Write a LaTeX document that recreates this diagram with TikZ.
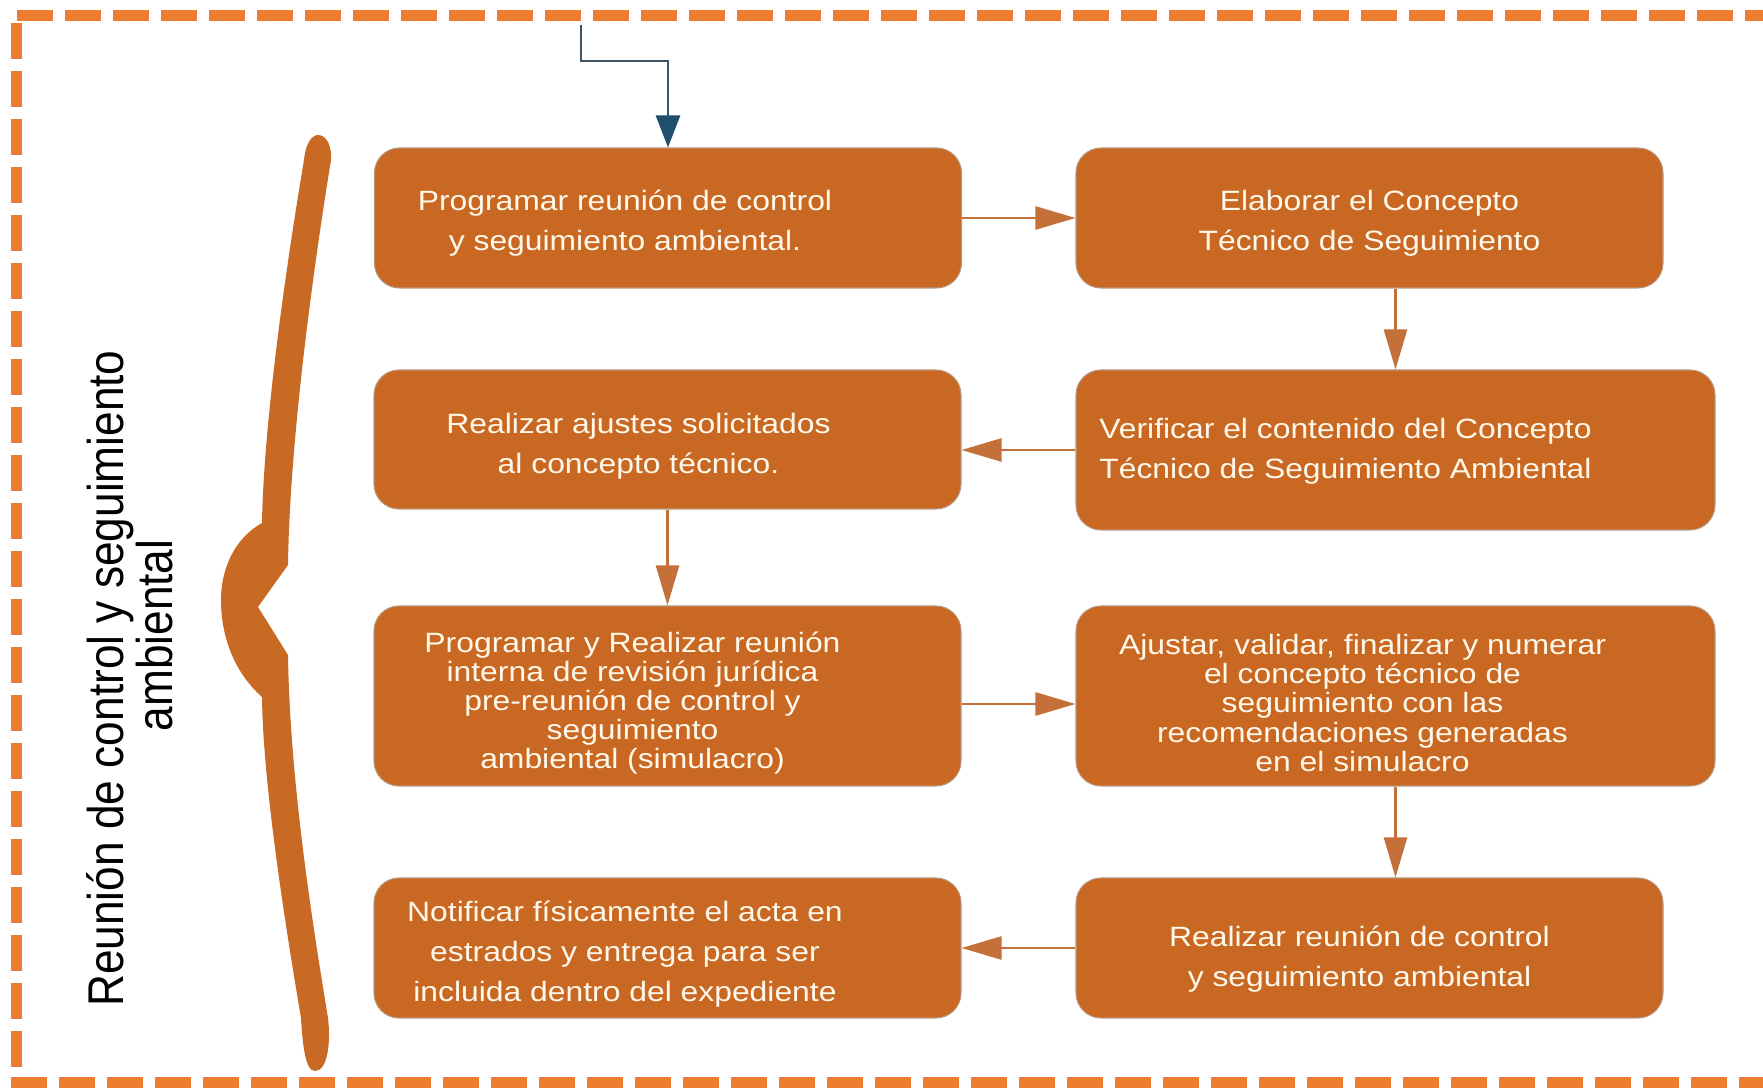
\documentclass[tikz,border=0pt]{standalone}
\usepackage{fontspec}
\setmainfont{Liberation Sans}
\newfontfamily\cajafont{Liberation Sans}[FakeStretch=1.14]
\newfontfamily\ladofont{Liberation Sans}[FakeStretch=0.88]
\usetikzlibrary{arrows.meta}
\definecolor{naranja}{RGB}{201,104,34}
\definecolor{bordecaja}{RGB}{185,150,125}
\definecolor{linea}{RGB}{196,112,58}
\definecolor{borde}{RGB}{237,125,49}
\definecolor{llave}{RGB}{201,106,36}
\definecolor{crema}{RGB}{255,248,235}
\definecolor{gris}{RGB}{62,85,102}
\definecolor{azul}{RGB}{31,78,110}

\begin{document}
\begin{tikzpicture}[
        caja/.style={draw=bordecaja, line width=0.6pt, fill=naranja, rounded corners=0.5cm,
            minimum width=11.74cm, minimum height=2.8cm, inner sep=0pt},
        texto/.style={text=crema, align=center, inner sep=0pt,
            font=\cajafont\fontsize{15.9pt}{22.8pt}\selectfont},
        textojunto/.style={texto, font=\cajafont\fontsize{15.9pt}{16.6pt}\selectfont},
        flecha/.style={draw=linea, line width=1.5pt, -{Triangle[length=0.8cm,width=0.46cm]}},
        raya/.style={draw=borde, line width=0.22cm, dash pattern=on 0.72cm off 0.24cm}
    ]
        \useasboundingbox (0,0) rectangle (35.26,21.76);
        % marco
        \draw[raya] (0.34,21.45) -- (35.4,21.45);
        \draw[raya] (0.34,21.30) -- (0.34,0.3);
        \draw[raya] (0.22,0.1) -- (35.4,0.1);
        % llave
        \fill[llave] (6.36,19.06) .. controls (6.55,19.06) and (6.64,18.8) .. (6.62,18.56)
            .. controls (6.35,16.9) and (5.80,13.2) .. (5.76,10.46)
            -- (5.16,9.62) -- (5.76,8.66)
            .. controls (5.80,6.0) and (6.3,3.0) .. (6.56,1.40)
            .. controls (6.62,0.9) and (6.55,0.34) .. (6.30,0.34)
            .. controls (6.1,0.34) and (6.05,0.9) .. (6.02,1.40)
            .. controls (5.75,3.0) and (5.26,6.0) .. (5.24,7.82)
            .. controls (4.7,8.3) and (4.42,9.0) .. (4.42,9.76)
            .. controls (4.42,10.4) and (4.7,11.0) .. (5.24,11.30)
            .. controls (5.28,13.6) and (5.85,17.2) .. (6.08,18.56)
            .. controls (6.1,18.8) and (6.2,19.06) .. (6.36,19.06) -- cycle;
        \node [rotate=90, align=center, inner sep=0pt,
            font=\ladofont\fontsize{28.6pt}{23.9pt}\selectfont] (T)
            at (2.59,8.19) {Reunión de control y seguimiento\\\hspace*{1.72cm}ambiental};
        % pasos
        \node [caja, label={[texto,xshift=-0.86cm,yshift=-0.11cm]center:{Programar reunión de control\\y seguimiento ambiental.}}] (P1) at (13.36,17.40) {};
        \node [caja, label={[texto,yshift=-0.11cm]center:{Elaborar el Concepto\\Técnico de Seguimiento}}] (P2) at (27.39,17.40) {};
        \node [caja, minimum height=2.78cm, label={[texto,xshift=-0.58cm,yshift=-0.14cm]center:{Realizar ajustes solicitados\\al concepto técnico.}}] (P3) at (13.35,12.97) {};
        \node [caja, minimum width=12.78cm, minimum height=3.2cm, label={[texto,xshift=-1cm,yshift=-0.03cm]center:{Verificar el contenido del Concepto\\Técnico de Seguimiento Ambiental}}] (P4) at (27.91,12.76) {};
        \node [caja, minimum height=3.6cm, label={[textojunto,xshift=-0.7cm,yshift=-0.14cm]center:{Programar y Realizar reunión\\interna de revisión jurídica\\pre-reunión de control y\\seguimiento\\ambiental (simulacro)}}] (P5) at (13.35,7.84) {};
        \node [caja, minimum width=12.78cm, minimum height=3.6cm, label={[textojunto,xshift=-0.66cm,yshift=-0.14cm]center:{Ajustar, validar, finalizar y numerar\\el concepto técnico de\\seguimiento con las\\recomendaciones generadas\\en el simulacro}}] (P6) at (27.91,7.84) {};
        \node [caja, label={[texto,xshift=-0.85cm,yshift=-0.13cm]center:{Notificar físicamente el acta en\\estrados y entrega para ser\\incluida dentro del expediente}}] (P7) at (13.35,2.80) {};
        \node [caja, label={[texto,xshift=-0.2cm,yshift=-0.23cm]center:{Realizar reunión de control\\y seguimiento ambiental}}] (P8) at (27.39,2.80) {};
        % flechas
        \coordinate (E) at (11.62,21.26);
        \draw[gris, line width=1.5pt, -{Triangle[length=0.64cm,width=0.48cm,color=azul]}]
            (E) -- ++(0,-0.72) -| (P1.north);
        \draw[flecha] (P1.east) -- (P2.west);
        \draw[flecha] (P4.north |- P2.south) -- (P4.north);
        \draw[flecha] (P4.west) -- (P3.east |- P4.west);
        \draw[flecha] (P3.south) -- (P5.north);
        \draw[flecha] ([yshift=-0.16cm]P5.east) -- ([yshift=-0.16cm]P6.west);
        \draw[flecha] (P6.south) -- (P6.south |- P8.north);
        \draw[flecha] (P8.west) -- (P7.east |- P8.west);
    \end{tikzpicture}
\end{document}
